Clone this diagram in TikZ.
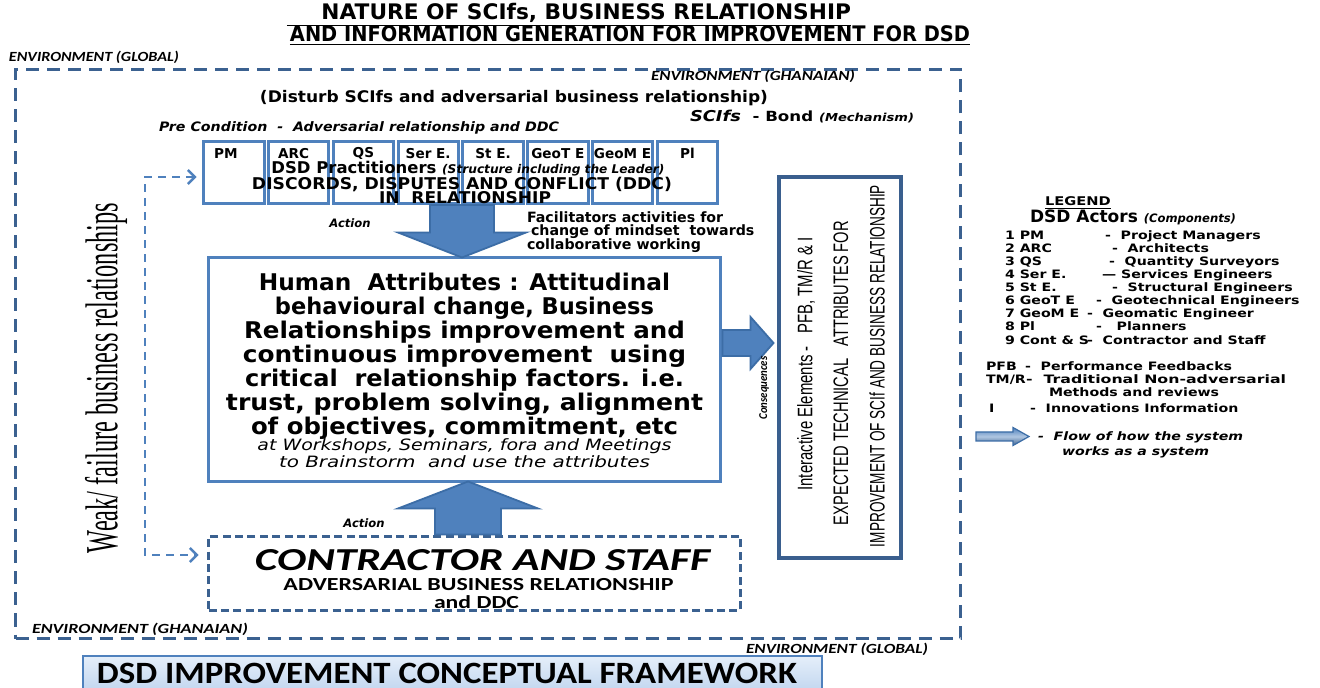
\documentclass[tikz,border=0pt]{standalone}
\usepackage{fontspec}
\setmainfont{DejaVu Sans}
\newfontfamily\calfont{Carlito}
\newfontfamily\romfont{Liberation Serif}
\newfontfamily\arifont{Liberation Sans}
\usetikzlibrary{arrows.meta,calc}

\definecolor{envblue}{HTML}{3B6190}
\definecolor{cellblue}{HTML}{4F81BD}
\definecolor{rightblue}{HTML}{3A5F8E}
\definecolor{arrowedge}{HTML}{3C6DA6}
\definecolor{bannertop}{HTML}{E6EFFA}
\definecolor{bannerbot}{HTML}{B3CCEB}

% stretch or squeeze one line of text to a given width, keeping its height
\newcommand\fitw[2]{\resizebox{#1}{\height}{#2}}
\newcommand\fsz[1]{\fontsize{#1pt}{#1pt}\selectfont}
\newcommand\wide[1]{\scalebox{1.22}[1]{#1}}

\begin{document}
\begin{tikzpicture}[x=0.5pt,y=-0.5pt,
  every node/.style={inner sep=0pt,outer sep=0pt},
  envframe/.style={draw=envblue,line width=1.5pt,dash pattern=on 6.5pt off 4pt},
  envlabel/.style={font=\calfont\bfseries\itshape\fsz{7}},
  cellbox/.style={draw=cellblue,line width=1.5pt,minimum width=30.2pt,minimum height=31pt},
  celllabel/.style={font=\bfseries\fsz{6.8}},
  humbox/.style={draw=cellblue,line width=1.5pt,minimum width=256pt,minimum height=112pt},
  humline/.style={font=\bfseries\fsz{11.5},anchor=base},
  humnote/.style={font=\itshape\fsz{7.8},anchor=base},
  contbox/.style={draw=envblue,line width=1.5pt,dash pattern=on 4pt off 2.2pt,minimum width=266pt,minimum height=37pt},
  resbox/.style={draw=rightblue,line width=1.8pt,minimum width=61.2pt,minimum height=190.7pt},
  restext/.style={rotate=90,font=\arifont\fsz{10.5}},
  blockarrow/.style={fill=cellblue,draw=arrowedge,line width=0.9pt,line join=miter},
  legarrow/.style={top color=cellblue,bottom color=cellblue!75!black,middle color=cellblue!45,draw=arrowedge,line width=0.6pt},
  fbline/.style={draw=cellblue,line width=1.2pt,dash pattern=on 4pt off 3pt,
    arrows={Straight Barb[length=3.5pt,width=7pt]-Straight Barb[length=3.5pt,width=7pt]}},
  actlabel/.style={font=\bfseries\itshape\fsz{5.8}},
  factext/.style={font=\bfseries\fsz{7.1},anchor=base west},
  legtext/.style={font=\bfseries\fsz{5.8},anchor=base west},
]
\clip (0,0) rectangle (1320,688);
\fill[white] (0,0) rectangle (1320,688);

% ---------- title ----------
\node[font=\bfseries\fsz{10.7}] (title1) at (569,15)
  {\fitw{282pt}{\underline{\hspace*{17pt}NATURE OF SCIfs, BUSINESS RELATIONSHIP}}};
\node[font=\bfseries\fsz{10.7}] (title2) at (630,36)
  {\fitw{340pt}{\underline{AND INFORMATION GENERATION FOR IMPROVEMENT FOR DSD}}};

% ---------- environments ----------
\node[envlabel,anchor=west] (envglobtop) at (9,57) {\fitw{85pt}{ENVIRONMENT (GLOBAL)}};
\node[envframe,minimum width=472.5pt,minimum height=284.5pt] (envglobal) at (488,354) {};
\node[envlabel,anchor=west] (envghtop) at (651,76) {\fitw{102pt}{ENVIRONMENT (GHANAIAN)}};
\node[envlabel,anchor=west] (envghbot) at (32,629) {\fitw{108pt}{ENVIRONMENT (GHANAIAN)}};
\node[envlabel,anchor=west] (envglobbot) at (746,649) {\fitw{91pt}{ENVIRONMENT (GLOBAL)}};

\node[font=\bfseries\fsz{8}] (disturb) at (514,98)
  {\fitw{254pt}{(Disturb SCIfs and adversarial business relationship)}};
\node[anchor=west] (bond) at (690,117)
  {\fitw{112pt}{{\bfseries\itshape\fsz{7.5}SCIfs}{\bfseries\fsz{7}\ \ - Bond }{\bfseries\itshape\fsz{5.5}(Mechanism)}}};
\node[anchor=west,font=\bfseries\itshape\fsz{6.5}] (precond) at (159,128)
  {\fitw{200pt}{Pre Condition\ \ -\ \ Adversarial relationship and DDC}};

% ---------- DSD practitioners row ----------
\foreach \i/\lab/\dx in {1/PM/-8,2/ARC/-5,3/QS/0,4/Ser E./0,5/St E./0,6/GeoT E/0,7/GeoM E/0,8/Pl/0} {
  \node[cellbox] (c\i) at ({233.8+(\i-1)*64.8},172.5) {};
  \node[celllabel] (l\i) at ($(c\i.north)+(\dx,12)$) {\lab};
}
\node[font=\bfseries\fsz{8.1},anchor=base] (pract) at (468,174)
  {\fitw{196.5pt}{DSD Practitioners {\itshape\fsz{6}(Structure including the Leader)}}};
\node[font=\bfseries\fsz{8.1},anchor=base] (ddc) at (462,189.5)
  {\fitw{210pt}{DISCORDS, DISPUTES AND CONFLICT (DDC)}};
\node[font=\bfseries\fsz{8.1},anchor=base] (inrel) at (465,203.5) {\fitw{86pt}{IN\ \ RELATIONSHIP}};

% ---------- central boxes ----------
\node[humbox] (hum) at (464.5,369.5) {};
\node[contbox] (cont) at (474.5,573.5) {};
\node[resbox] (res) at (840,367.5) {};

% human attributes text
\node[humline] (h1) at (464.5,290.5) {\fitw{205.5pt}{Human\ \ Attributes : Attitudinal}};
\node[humline] (h2) at (464.5,314.5) {\fitw{189.5pt}{behavioural change, Business}};
\node[humline] (h3) at (464.5,338.5) {\fitw{220.5pt}{Relationships improvement and}};
\node[humline] (h4) at (464.5,362.5) {\fitw{221.5pt}{continuous improvement\ \ using}};
\node[humline] (h5) at (464.5,386.5) {\fitw{219.5pt}{critical\ \ relationship factors. i.e.}};
\node[humline] (h6) at (464.5,410.5) {\fitw{238.5pt}{trust, problem solving, alignment}};
\node[humline] (h7) at (464.5,434.5) {\fitw{213.5pt}{of objectives, commitment, etc}};
\node[humnote] (h8) at (464.5,450.5) {\fitw{207pt}{at Workshops, Seminars, fora and Meetings}};
\node[humnote] (h9) at (464.5,468) {\fitw{185.5pt}{to Brainstorm\ \ and use the attributes}};

% contractor text
\node[font=\calfont\bfseries\itshape\fsz{16},anchor=base] (cs1) at (482.5,570.5)
  {\fitw{227.5pt}{CONTRACTOR AND STAFF}};
\node[font=\calfont\bfseries\fsz{9.2},anchor=base] (cs2) at (478.5,590.5)
  {\fitw{195pt}{ADVERSARIAL BUSINESS RELATIONSHIP}};
\node[font=\calfont\bfseries\fsz{9.2},anchor=base] (cs3) at (476.5,608.5)
  {\fitw{42.5pt}{and DDC}};

% expected attributes text
\node[restext] (ie) at (806,364) {\fitw{126.5pt}{Interactive Elements -\ \ \ PFB, TM/R \& I}};
\node[restext] (etech) at (841,373) {\fitw{152pt}{EXPECTED TECHNICAL\ \ \ ATTRIBUTES FOR}};
\node[restext] (impr) at (877,366) {\fitw{181pt}{IMPROVEMENT OF SCIf AND BUSINESS RELATIONSHIP}};

% ---------- flows ----------
\coordinate (dtip) at ($(hum.north)+(-2.5,0)$);
\draw[blockarrow] (dtip) -- ++(64,-25) -- ++(-32,0) -- ++(0,-27.5) -- ++(-64,0)
  -- ++(0,27.5) -- ++(-32,0) -- cycle;
\coordinate (utip) at ($(hum.south)+(3.5,0)$);
\draw[blockarrow] (utip) -- ++(70,27) -- ++(-37,0) -- ++(0,26) -- ++(-66,0)
  -- ++(0,-26) -- ++(-37,0) -- cycle;
\coordinate (ry) at (0,343);
\draw[blockarrow] ($(hum.east |- ry)+(2,-13)$) -- ++(28,0) -- ++(0,-13) -- ++(23,26)
  -- ++(-23,26) -- ++(0,-13) -- ++(-28,0) -- cycle;

\node[actlabel] (act1) at (350,223) {Action};
\node[actlabel] (act2) at (364,523) {Action};
\node[rotate=90,font=\calfont\bfseries\itshape\fsz{6}] (conseq) at (764,388) {\fitw{31.5pt}{Consequences}};

\node[factext] (fac1) at (527,223) {Facilitators activities for};
\node[factext] (fac2) at (531,236) {change of mindset\ \ towards};
\node[factext] (fac3) at (527,250) {collaborative working};

% feedback loop
\coordinate (fbtop) at (145,177);
\coordinate (fbbot) at (145,555);
\draw[fbline,shorten <=3.5pt,shorten >=5pt] (c1.west |- fbtop) -- (fbtop) -- (fbbot) -- (cont.west |- fbbot);
\node[rotate=90] (weak) at (106,378)
  {\fitw{175pt}{\romfont\fsz{23}Weak/ failure business relationships}};

% ---------- legend ----------
\node[font=\bfseries\fsz{6}] (legend) at (1078,203) {\wide{\underline{LEGEND}}};
\node[anchor=west] (actors) at (1030,217)
  {\fitw{103pt}{{\bfseries\fsz{8.5}DSD Actors }{\bfseries\itshape\fsz{5.8}(Components)}}};
\foreach \n/\yy/\ab/\dx/\ds in {
  1/236/PM/1105/-\ \ Project Managers,
  2/249/ARC/1112/-\ \ Architects,
  3/262/QS/1109/-\ \ Quantity Surveyors,
  4/275/Ser E./1102/— Services Engineers,
  5/288/St E./1112/-\ \ Structural Engineers,
  6/301/GeoT E/1096/-\ \ Geotechnical Engineers,
  7/314/GeoM E/1087/-\ \ Geomatic Engineer,
  8/327/Pl/1096/-\ \ \ Planners,
  9/341/Cont \& S/1087/-\ \ Contractor and Staff} {
  \node[legtext] (la\n) at (1005,\yy+4) {\wide{\n\ \ab}};
  \node[legtext] (ld\n) at (\dx,\yy+4) {\wide{\ds}};
}
\node[legtext] (lpfb) at (986,371) {\wide{PFB}};
\node[legtext] (lpfbd) at (1025,371) {\wide{-\ \ Performance Feedbacks}};
\node[legtext] (ltm) at (986,384) {\wide{TM/R}};
\node[legtext] (ltmd) at (1026,384) {\fitw{130pt}{-\ \ Traditional Non-adversarial}};
\node[legtext] (ltmd2) at (1049,397) {\wide{Methods and reviews}};
\node[legtext] (li) at (989,413) {\wide{I}};
\node[legtext] (lid) at (1030,413) {\wide{-\ \ Innovations Information}};
\draw[legarrow] (976,432) -- (1013,432) -- (1013,427.5) -- (1029,436.5) -- (1013,445.5)
  -- (1013,441) -- (976,441) -- cycle;
\node[legtext,font=\bfseries\itshape\fsz{5.8}] (lflow) at (1038,441) {\wide{-\ \ Flow of how the system}};
\node[legtext,font=\bfseries\itshape\fsz{5.8}] (lflow2) at (1062,456) {\wide{works as a system}};

% ---------- banner ----------
\node[draw=cellblue,line width=1pt,top color=bannertop,bottom color=bannerbot,
  minimum width=369.5pt,minimum height=25pt,anchor=north west] (banner) at (82.5,655.5) {};
\node[font=\calfont\bfseries\fsz{15.5}] (bantext) at (447,673)
  {\fitw{350pt}{DSD IMPROVEMENT CONCEPTUAL FRAMEWORK}};
\end{tikzpicture}
\end{document}
